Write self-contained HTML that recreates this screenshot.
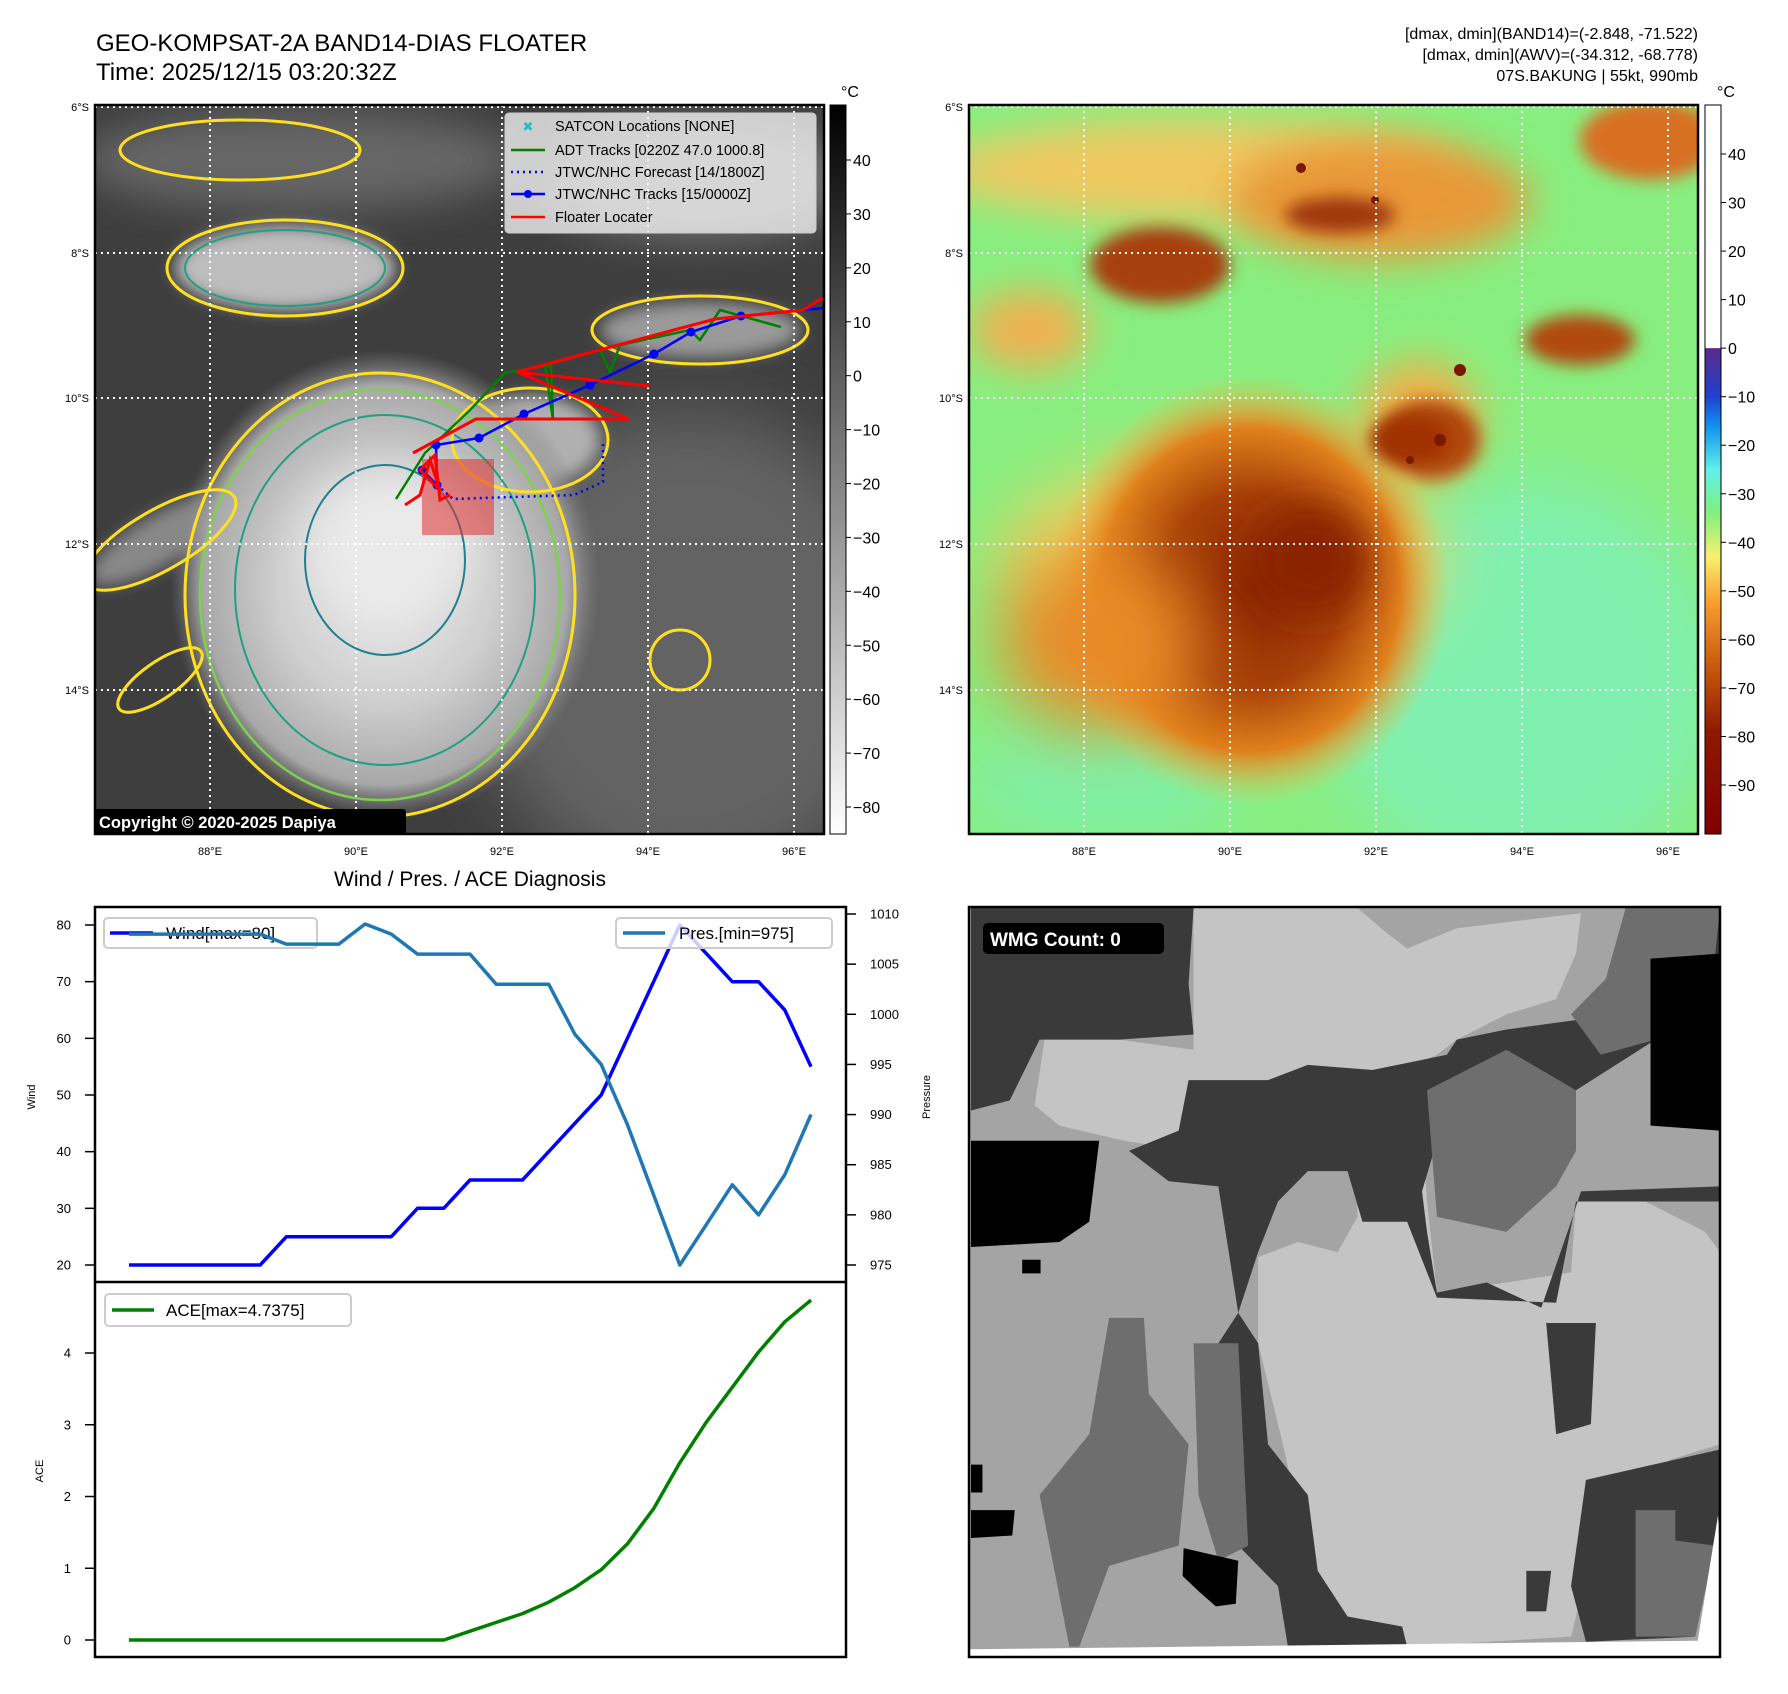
<!DOCTYPE html>
<html><head><meta charset="utf-8">
<style>
html,body{margin:0;padding:0;background:#fff;}
svg{display:block;font-family:"Liberation Sans","DejaVu Sans",sans-serif;}
</style></head>
<body>
<svg id="root" width="1788" height="1694" viewBox="0 0 1788 1694" xmlns="http://www.w3.org/2000/svg">
<defs>
<filter id="b8" x="-50%" y="-50%" width="200%" height="200%"><feGaussianBlur stdDeviation="8"/></filter>
<filter id="b20" x="-50%" y="-50%" width="200%" height="200%"><feGaussianBlur stdDeviation="20"/></filter>
<filter id="b35" x="-50%" y="-50%" width="200%" height="200%"><feGaussianBlur stdDeviation="35"/></filter>
<clipPath id="c1"><rect x="95" y="105" width="729" height="729"/></clipPath>
<clipPath id="c2"><rect x="969" y="105" width="729" height="729"/></clipPath>
<clipPath id="c3"><rect x="969" y="907" width="751" height="750"/></clipPath>
<linearGradient id="cb1" x1="0" y1="0" x2="0" y2="1"><stop offset="0" stop-color="#000"/><stop offset="1" stop-color="#fff"/></linearGradient>
<linearGradient id="cb2" x1="0" y1="0" x2="0" y2="1">
<stop offset="0" stop-color="#fff"/><stop offset="0.333" stop-color="#fff"/>
<stop offset="0.334" stop-color="#5a2a8a"/><stop offset="0.40" stop-color="#2040d0"/>
<stop offset="0.44" stop-color="#1090f0"/><stop offset="0.50" stop-color="#60f0e8"/>
<stop offset="0.56" stop-color="#80f080"/><stop offset="0.62" stop-color="#f8f070"/>
<stop offset="0.68" stop-color="#f8a030"/><stop offset="0.76" stop-color="#d06010"/>
<stop offset="0.86" stop-color="#901800"/><stop offset="1" stop-color="#800000"/>
</linearGradient>
<radialGradient id="blob2" cx="0.5" cy="0.5" r="0.5">
<stop offset="0" stop-color="#8a2400"/><stop offset="0.45" stop-color="#a84008"/>
<stop offset="0.75" stop-color="#e0801c"/><stop offset="1" stop-color="#f0c050" stop-opacity="0"/>
</radialGradient>
<radialGradient id="blob1" cx="0.5" cy="0.5" r="0.5">
<stop offset="0" stop-color="#ececec"/><stop offset="0.5" stop-color="#cfcfcf"/>
<stop offset="0.85" stop-color="#a8a8a8"/><stop offset="1" stop-color="#808080" stop-opacity="0"/>
</radialGradient>
</defs>

<text x="96" y="51" font-size="24" fill="#000">GEO-KOMPSAT-2A BAND14-DIAS FLOATER</text>
<text x="96" y="80" font-size="24" fill="#000">Time: 2025/12/15 03:20:32Z</text>
<g font-size="16" text-anchor="end" fill="#000">
<text x="1698" y="39">[dmax, dmin](BAND14)=(-2.848, -71.522)</text>
<text x="1698" y="60">[dmax, dmin](AWV)=(-34.312, -68.778)</text>
<text x="1698" y="81">07S.BAKUNG | 55kt, 990mb</text>
</g>

<!-- MAP 1 -->
<g clip-path="url(#c1)">
<rect x="95" y="105" width="729" height="729" fill="#3e3e3e"/>
<ellipse cx="690" cy="650" rx="220" ry="240" fill="#646464" filter="url(#b35)"/>
<ellipse cx="300" cy="160" rx="220" ry="50" fill="#666" filter="url(#b20)"/>
<ellipse cx="700" cy="180" rx="160" ry="60" fill="#707070" filter="url(#b20)"/>
<ellipse cx="285" cy="268" rx="110" ry="42" fill="#bdbdbd" filter="url(#b8)"/>
<ellipse cx="700" cy="330" rx="100" ry="28" fill="#9a9a9a" filter="url(#b8)"/>
<ellipse cx="530" cy="440" rx="70" ry="45" fill="#b0b0b0" filter="url(#b8)"/>
<ellipse cx="160" cy="540" rx="80" ry="25" fill="#888" filter="url(#b8)" transform="rotate(-30 160 540)"/>
<ellipse cx="385" cy="585" rx="215" ry="235" fill="url(#blob1)"/>
<ellipse cx="390" cy="545" rx="80" ry="70" fill="#eaeaea" filter="url(#b20)"/>
<ellipse cx="380" cy="595" rx="195" ry="222" fill="none" stroke="#ffe020" stroke-width="3"/>
<ellipse cx="380" cy="595" rx="180" ry="205" fill="none" stroke="#80d050" stroke-width="2.5"/>
<ellipse cx="385" cy="590" rx="150" ry="175" fill="none" stroke="#20a080" stroke-width="2"/>
<ellipse cx="385" cy="560" rx="80" ry="95" fill="none" stroke="#208090" stroke-width="2"/>
<ellipse cx="285" cy="268" rx="118" ry="48" fill="none" stroke="#ffe020" stroke-width="3"/>
<ellipse cx="285" cy="268" rx="100" ry="38" fill="none" stroke="#20a080" stroke-width="2"/>
<ellipse cx="700" cy="330" rx="108" ry="34" fill="none" stroke="#ffe020" stroke-width="3"/>
<ellipse cx="530" cy="440" rx="78" ry="52" fill="none" stroke="#ffe020" stroke-width="3"/>
<ellipse cx="160" cy="540" rx="86" ry="30" fill="none" stroke="#ffe020" stroke-width="3" transform="rotate(-30 160 540)"/>
<ellipse cx="680" cy="660" rx="30" ry="30" fill="none" stroke="#ffe020" stroke-width="3"/>
<ellipse cx="240" cy="150" rx="120" ry="30" fill="none" stroke="#ffe020" stroke-width="3"/>
<ellipse cx="160" cy="680" rx="50" ry="18" fill="none" stroke="#ffe020" stroke-width="3" transform="rotate(-35 160 680)"/>
<g stroke="#fff" stroke-width="2" stroke-dasharray="2,4">
<line x1="95" y1="253" x2="824" y2="253"/><line x1="95" y1="398" x2="824" y2="398"/>
<line x1="95" y1="544" x2="824" y2="544"/><line x1="95" y1="690" x2="824" y2="690"/>
<line x1="95" y1="107" x2="824" y2="107"/>
<line x1="210" y1="105" x2="210" y2="834"/><line x1="356" y1="105" x2="356" y2="834"/>
<line x1="502" y1="105" x2="502" y2="834"/><line x1="648" y1="105" x2="648" y2="834"/>
<line x1="794" y1="105" x2="794" y2="834"/>
</g>
<rect x="422" y="459" width="72" height="76" fill="#e03030" fill-opacity="0.55"/>
<polyline points="396,499 425,453 470,410 505,373 551,365 553,420 545,365 600,350 610,372 620,345 690,330 700,340 720,310 781,327" fill="none" stroke="#008000" stroke-width="2.5"/>
<polyline points="437,485 453,499 574,495 603,482 603,442" fill="none" stroke="#0000ff" stroke-width="2.5" stroke-dasharray="2,4"/>
<polyline points="422,470 437,485 436,445 479,438 524,414 590,385 654,354 691,332 741,316 824,308" fill="none" stroke="#0000ff" stroke-width="2.5"/>
<g fill="#0000ff">
<circle cx="422" cy="470" r="4.5"/><circle cx="437" cy="485" r="4.5"/><circle cx="436" cy="445" r="4.5"/><circle cx="479" cy="438" r="4.5"/><circle cx="524" cy="414" r="4.5"/><circle cx="590" cy="385" r="4.5"/><circle cx="654" cy="354" r="4.5"/><circle cx="691" cy="332" r="4.5"/><circle cx="741" cy="316" r="4.5"/>
</g>
<polyline points="413,453 476,419 629,419 517,372 649,386 517,372 715,319 803,310 821,299 830,299" fill="none" stroke="#ff0000" stroke-width="3"/>
<polyline points="405,505 420,495 430,460 440,490 420,470 435,455 440,500 450,495" fill="none" stroke="#ff0000" stroke-width="3"/>
<g>
<rect x="505" y="113" width="311" height="120" rx="4" fill="#f0f0f0" fill-opacity="0.8" stroke="#ccc"/>
<text x="528" y="131" font-size="13" fill="#20c0c0" text-anchor="middle" font-weight="bold">✖</text>
<line x1="511" y1="150" x2="545" y2="150" stroke="#008000" stroke-width="2.5"/>
<line x1="511" y1="172" x2="545" y2="172" stroke="#0000ff" stroke-width="2.5" stroke-dasharray="2,4"/>
<line x1="511" y1="194" x2="545" y2="194" stroke="#0000ff" stroke-width="2.5"/><circle cx="528" cy="194" r="4" fill="#0000ff"/>
<line x1="511" y1="217" x2="545" y2="217" stroke="#ff0000" stroke-width="2.5"/>
<g font-size="14.5" fill="#000">
<text x="555" y="131">SATCON Locations [NONE]</text>
<text x="555" y="155">ADT Tracks [0220Z 47.0 1000.8]</text>
<text x="555" y="177">JTWC/NHC Forecast [14/1800Z]</text>
<text x="555" y="199">JTWC/NHC Tracks [15/0000Z]</text>
<text x="555" y="222">Floater Locater</text>
</g>
</g>
<rect x="94" y="809" width="312" height="26" rx="3" fill="#000"/>
<text x="99" y="828" font-size="16.5" font-weight="bold" fill="#fff">Copyright © 2020-2025 Dapiya</text>
</g>
<rect x="95" y="105" width="729" height="729" fill="none" stroke="#000" stroke-width="2.5"/>
<g font-size="11" fill="#000" text-anchor="end">
<text x="89" y="111">6°S</text><text x="89" y="257">8°S</text><text x="89" y="402">10°S</text><text x="89" y="548">12°S</text><text x="89" y="694">14°S</text>
</g>
<g font-size="11" fill="#000" text-anchor="middle">
<text x="210" y="855">88°E</text><text x="356" y="855">90°E</text><text x="502" y="855">92°E</text><text x="648" y="855">94°E</text><text x="794" y="855">96°E</text>
</g>
<rect x="830" y="105" width="16" height="729" fill="url(#cb1)" stroke="#000" stroke-width="1"/>
<text x="850" y="97" font-size="16" text-anchor="middle">°C</text>
<g id="cb1ticks" font-size="16" fill="#000"></g>

<!-- MAP 2 -->
<g clip-path="url(#c2)">
<rect x="969" y="105" width="729" height="729" fill="#88ee80"/>
<ellipse cx="1520" cy="680" rx="200" ry="200" fill="#80f0b0" filter="url(#b35)"/>
<ellipse cx="1100" cy="780" rx="140" ry="60" fill="#80f0a8" filter="url(#b35)"/>
<ellipse cx="1200" cy="170" rx="260" ry="50" fill="#f0c860" filter="url(#b20)"/>
<ellipse cx="1380" cy="200" rx="150" ry="60" fill="#e89838" filter="url(#b20)"/>
<ellipse cx="1650" cy="140" rx="70" ry="40" fill="#d87020" filter="url(#b8)"/>
<ellipse cx="1160" cy="265" rx="70" ry="38" fill="#a84010" filter="url(#b8)"/>
<ellipse cx="1340" cy="215" rx="55" ry="18" fill="#a03808" filter="url(#b8)"/>
<ellipse cx="1580" cy="340" rx="55" ry="25" fill="#b04810" filter="url(#b8)"/>
<ellipse cx="1030" cy="330" rx="60" ry="40" fill="#f0b050" filter="url(#b20)"/>
<ellipse cx="1420" cy="420" rx="60" ry="60" fill="#f0b048" filter="url(#b20)"/>
<ellipse cx="1430" cy="440" rx="50" ry="40" fill="#b04810" filter="url(#b8)"/>
<ellipse cx="1220" cy="560" rx="220" ry="100" fill="#f0d060" filter="url(#b35)"/>
<ellipse cx="1250" cy="590" rx="200" ry="215" fill="url(#blob2)"/>
<ellipse cx="1310" cy="560" rx="60" ry="55" fill="#8a2000" filter="url(#b20)"/>
<ellipse cx="1410" cy="440" rx="40" ry="25" fill="#a03000" filter="url(#b8)"/>
<ellipse cx="1100" cy="640" rx="100" ry="90" fill="#e88a28" filter="url(#b35)"/>
<g fill="#7a1800">
<circle cx="1460" cy="370" r="6"/><circle cx="1440" cy="440" r="6"/><circle cx="1410" cy="460" r="4"/><circle cx="1301" cy="168" r="5"/><circle cx="1375" cy="200" r="4"/>
</g>
<g stroke="#fff" stroke-width="2" stroke-dasharray="2,4">
<line x1="969" y1="253" x2="1698" y2="253"/><line x1="969" y1="398" x2="1698" y2="398"/>
<line x1="969" y1="544" x2="1698" y2="544"/><line x1="969" y1="690" x2="1698" y2="690"/>
<line x1="969" y1="107" x2="1698" y2="107"/>
<line x1="1084" y1="105" x2="1084" y2="834"/><line x1="1230" y1="105" x2="1230" y2="834"/>
<line x1="1376" y1="105" x2="1376" y2="834"/><line x1="1522" y1="105" x2="1522" y2="834"/>
<line x1="1668" y1="105" x2="1668" y2="834"/>
</g>
</g>
<rect x="969" y="105" width="729" height="729" fill="none" stroke="#000" stroke-width="2.5"/>
<g font-size="11" fill="#000" text-anchor="end">
<text x="963" y="111">6°S</text><text x="963" y="257">8°S</text><text x="963" y="402">10°S</text><text x="963" y="548">12°S</text><text x="963" y="694">14°S</text>
</g>
<g font-size="11" fill="#000" text-anchor="middle">
<text x="1084" y="855">88°E</text><text x="1230" y="855">90°E</text><text x="1376" y="855">92°E</text><text x="1522" y="855">94°E</text><text x="1668" y="855">96°E</text>
</g>
<rect x="1705" y="105" width="16" height="729" fill="url(#cb2)" stroke="#000" stroke-width="1"/>
<text x="1726" y="97" font-size="16" text-anchor="middle">°C</text>
<g id="cb2ticks" font-size="16" fill="#000"></g>

<!-- DIAGNOSIS CHART -->
<text x="470" y="886" font-size="21" text-anchor="middle">Wind / Pres. / ACE Diagnosis</text>
<g id="chart"></g>
<text transform="translate(35,1097) rotate(-90)" font-size="11" text-anchor="middle">Wind</text>
<text transform="translate(930,1097) rotate(-90)" font-size="11" text-anchor="middle">Pressure</text>
<text transform="translate(43,1471) rotate(-90)" font-size="11" text-anchor="middle">ACE</text>

<!-- WMG PANEL -->
<g clip-path="url(#c3)">
<rect x="969" y="907" width="751" height="750" fill="#a4a4a4"/>
<g transform="translate(960.1,887.8) scale(0.4967,0.506)">
<polygon fill="#c4c4c4" points="470,40 800,40 860,90 900,120 1000,80 1250,50 1240,130 1200,220 1100,250 1000,300 960,330 820,390 700,370 600,430 540,480 460,520 330,500 200,470 150,430 170,300 320,300 470,320"/>
<polygon fill="#c4c4c4" points="22,180 90,180 100,300 22,300"/>
<polygon fill="#c4c4c4" points="800,470 930,470 940,620 960,800 1100,780 1230,760 1240,620 1380,620 1500,680 1530,720 1530,1100 1430,1130 1300,1200 1250,1400 1230,1480 900,1500 780,1440 700,1320 650,1100 600,900 600,730 680,700 760,720 800,650"/>
<polygon fill="#3a3a3a" points="22,40 470,40 460,190 470,290 320,300 160,300 100,420 22,440"/>
<polygon fill="#3a3a3a" points="460,380 620,380 700,350 830,360 980,330 1000,300 1100,280 1250,260 1300,200 1340,40 1530,40 1530,130 1430,140 1400,300 1240,400 1100,500 960,500 930,600 940,680 960,800 1060,780 1170,830 1230,660 1250,600 1530,590 1530,620 1380,620 1240,620 1200,820 960,810 900,660 810,660 780,560 700,560 640,620 600,720 560,840 520,590 420,580 340,520 440,480"/>
<polygon fill="#3a3a3a" points="560,840 600,900 620,1100 700,1200 720,1350 780,1440 890,1460 900,1500 660,1500 640,1380 560,1300 570,1100 520,900"/>
<polygon fill="#3a3a3a" points="1260,1170 1530,1110 1530,1240 1480,1480 1260,1490 1230,1380"/>
<polygon fill="#3a3a3a" points="1180,860 1280,860 1270,1060 1200,1080"/>
<polygon fill="#3a3a3a" points="1140,1350 1190,1350 1180,1430 1140,1430"/>
<polygon fill="#6e6e6e" points="940,400 1100,320 1240,400 1240,520 1200,590 1100,680 960,650"/>
<polygon fill="#6e6e6e" points="300,850 370,850 380,1000 460,1100 440,1300 300,1340 240,1500 220,1500 160,1200 260,1080"/>
<polygon fill="#6e6e6e" points="1340,40 1530,40 1500,320 1400,300 1290,330 1230,250 1300,180"/>
<polygon fill="#6e6e6e" points="1360,1230 1440,1230 1440,1290 1520,1300 1480,1480 1360,1480"/>
<polygon fill="#6e6e6e" points="470,900 560,900 580,1300 520,1330 480,1200"/>
<polygon fill="#000" points="22,500 280,500 260,660 200,700 22,710"/>
<polygon fill="#000" points="1390,140 1530,130 1530,480 1390,470"/>
<rect x="125" y="735" width="37" height="27" fill="#000"/>
<polygon fill="#000" points="450,1305 560,1330 555,1415 515,1420 480,1390 448,1360"/>
<polygon fill="#000" points="22,1230 110,1230 105,1280 22,1285"/>
<polygon fill="#000" points="22,1140 45,1140 45,1195 22,1195"/>
<polygon fill="#fff" points="1526,1240 1540,1540 10,1540 10,1505 1485,1488"/>
</g>
<rect x="983" y="923" width="181" height="31" rx="5" fill="#000"/>
<text x="990" y="946" font-size="19" font-weight="bold" fill="#fff">WMG Count: 0</text>
</g>
<rect x="969" y="907" width="751" height="750" fill="none" stroke="#000" stroke-width="2.5"/>
</svg>

<script>
var windValues = [20,20,20,20,20,20,25,25,25,25,25,30,30,35,35,35,40,45,50,60,70,80,75,70,70,65,55];
var presValues = [1008,1008,1008,1008,1008,1008,1007,1007,1007,1009,1008,1006,1006,1006,1003,1003,1003,998,995,989,982,975,979,983,980,984,990];
var aceValues = [0,0,0,0,0,0,0,0,0,0,0,0,0,0.1225,0.245,0.3675,0.5275,0.73,0.98,1.34,1.83,2.47,3.0325,3.5225,4.0125,4.435,4.7375];
var windTicks = [20,30,40,50,60,70,80];
var presTicks = [975,980,985,990,995,1000,1005,1010];
var aceTicks = [0,1,2,3,4];
var cbIrTicks = [40,30,20,10,0,-10,-20,-30,-40,-50,-60,-70,-80];
var cbAwvTicks = [40,30,20,10,0,-10,-20,-30,-40,-50,-60,-70,-80,-90];

var NS = 'http://www.w3.org/2000/svg';
function mk(tag, attrs, parent){ var e=document.createElementNS(NS,tag); for(var k in attrs) e.setAttribute(k,attrs[k]); parent.appendChild(e); return e; }
function xIdx(i){ return 129 + i*(811-129)/(windValues.length-1); }
function yWind(v){ return 1265 - (v-20)*(1265-925)/60; }
function yPres(v){ return 1265 - (v-975)*(1265-914)/35; }
function yAce(v){ return 1640 - v*(1640-1353)/4; }
function yCb1(v){ return 160 + (40-v)*(807-160)/120; }
function yCb2(v){ return 154 + (40-v)*(785-154)/130; }

var chart = document.getElementById('chart');
mk('rect',{x:95,y:907,width:751,height:750,fill:'#fff'},chart);

function pathOf(vals, yf){ return vals.map(function(v,i){ return (i?'L':'M')+xIdx(i).toFixed(1)+','+yf(v).toFixed(1); }).join(' '); }

windTicks.forEach(function(t){
  var y=yWind(t);
  var l=mk('line',{x1:85,x2:95,y1:y,y2:y,stroke:'#000','stroke-width':1.5},chart);
  
  
  var tx=mk('text',{x:71,y:y+4.5,'font-size':13,'text-anchor':'end'},chart); tx.textContent=t;
  
  
});
presTicks.forEach(function(t){
  var y=yPres(t);
  var l=mk('line',{x1:846,x2:856,y1:y,y2:y,stroke:'#000','stroke-width':1.5},chart);
  
  
  var tx=mk('text',{x:870,y:y+4.5,'font-size':13},chart); tx.textContent=t;
  
  
});
aceTicks.forEach(function(t){
  var y=yAce(t);
  var l=mk('line',{x1:85,x2:95,y1:y,y2:y,stroke:'#000','stroke-width':1.5},chart);
  
  
  var tx=mk('text',{x:71,y:y+4.5,'font-size':13,'text-anchor':'end'},chart); tx.textContent=t;
  
  
});

var wl=mk('path',{d:pathOf(windValues,yWind),fill:'none',stroke:'#0000ff','stroke-width':3.5,'stroke-linejoin':'round'},chart);


var wg=mk('g',{},chart);


mk('rect',{x:104,y:918,width:213,height:30,rx:4,fill:'#fff','fill-opacity':0.8,stroke:'#ccc','stroke-width':2},wg);
mk('line',{x1:110,x2:153,y1:933,y2:933,stroke:'#0000ff','stroke-width':3.5},wg);
var wt=mk('text',{x:166,y:939,'font-size':17},wg); wt.textContent='Wind[max=80]';
var pl=mk('path',{d:pathOf(presValues,yPres),fill:'none',stroke:'#1f77b4','stroke-width':3.5,'stroke-linejoin':'round'},chart);


var pg=mk('g',{},chart);


mk('rect',{x:616,y:918,width:216,height:30,rx:4,fill:'#fff','fill-opacity':0.8,stroke:'#ccc','stroke-width':2},pg);
mk('line',{x1:623,x2:665,y1:933,y2:933,stroke:'#1f77b4','stroke-width':3.5},pg);
var pt=mk('text',{x:679,y:939,'font-size':17},pg); pt.textContent='Pres.[min=975]';
var al=mk('path',{d:pathOf(aceValues,yAce),fill:'none',stroke:'#008000','stroke-width':3.5,'stroke-linejoin':'round'},chart);


var ag=mk('g',{},chart);


mk('rect',{x:105,y:1294,width:246,height:32,rx:4,fill:'#fff','fill-opacity':0.8,stroke:'#ccc','stroke-width':2},ag);
mk('line',{x1:112,x2:154,y1:1310,y2:1310,stroke:'#008000','stroke-width':3.5},ag);
var at=mk('text',{x:166,y:1316,'font-size':17},ag); at.textContent='ACE[max=4.7375]';
mk('rect',{x:95,y:907,width:751,height:750,fill:'none',stroke:'#000','stroke-width':2.5},chart);
mk('line',{x1:95,x2:846,y1:1282,y2:1282,stroke:'#000','stroke-width':2.5},chart);

var c1=document.getElementById('cb1ticks');
cbIrTicks.forEach(function(t){
  var y=yCb1(t);
  mk('line',{x1:846,x2:851,y1:y,y2:y,stroke:'#000','stroke-width':1},c1);
  var tx=mk('text',{x:853,y:y+6},c1); tx.textContent=(t<0?'\u2212'+(-t):t);
  
  
});
var c2=document.getElementById('cb2ticks');
cbAwvTicks.forEach(function(t){
  var y=yCb2(t);
  mk('line',{x1:1721,x2:1726,y1:y,y2:y,stroke:'#000','stroke-width':1},c2);
  var tx=mk('text',{x:1728,y:y+6},c2); tx.textContent=(t<0?'\u2212'+(-t):t);
  
  
});
</script>
</body></html>
